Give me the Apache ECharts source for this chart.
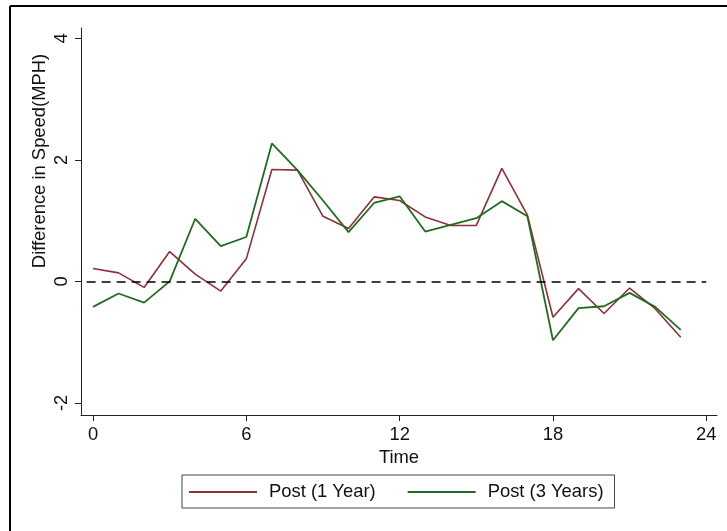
<!DOCTYPE html>
<html>
<head>
<meta charset="utf-8">
<script src="https://cdn.jsdelivr.net/npm/echarts@6/dist/echarts.min.js"></script>
<style>
html,body{margin:0;padding:0;background:#fff;}
#c{width:727px;height:531px;}
</style>
</head>
<body>
<div id="c"></div>
<script>
var times = [0,1,2,3,4,5,6,7,8,9,10,11,12,13,14,15,16,17,18,19,20,21,22,23];
var post1Year = [0.21,0.14,-0.10,0.49,0.12,-0.16,0.37,1.84,1.83,1.07,0.87,1.39,1.33,1.06,0.92,0.92,1.86,1.09,-0.59,-0.12,-0.53,-0.11,-0.45,-0.92];
var post3Years = [-0.42,-0.20,-0.35,0.00,1.03,0.58,0.73,2.27,1.83,1.33,0.81,1.29,1.40,0.82,0.93,1.04,1.32,1.07,-0.97,-0.44,-0.41,-0.19,-0.42,-0.80];
var xTicks = [0,6,12,18,24];
var yTicks = [-2,0,2,4];
var seriesNames = ['Post (1 Year)','Post (3 Years)'];
var xTitle = 'Time';
var yTitle = 'Difference in Speed(MPH)';

function pairs(vals){ return times.map(function(t,i){ return [t, vals[i]]; }); }

var font = 'Liberation Sans, Arial, sans-serif';
var fs = 18.4;
var chart = echarts.init(document.getElementById('c'), null, {renderer:'canvas'});
chart.setOption({
  animation:false,
  backgroundColor:'#fff',
  grid:{left:81, top:28, right:10, bottom:116, containLabel:false},
  xAxis:{
    type:'value', min:-0.47, max:24.42,
    name:xTitle, nameLocation:'middle', nameGap:30,
    nameTextStyle:{color:'#111', fontSize:fs, fontFamily:font},
    axisLine:{show:true, onZero:false, lineStyle:{color:'#222', width:1}},
    axisTick:{show:true, length:6, customValues:xTicks, lineStyle:{color:'#222'}},
    axisLabel:{customValues:xTicks, color:'#111', fontSize:fs, fontFamily:font, margin:11},
    splitLine:{show:false}
  },
  yAxis:{
    type:'value', min:-2.2, max:4.17,
    axisLine:{show:true, onZero:false, lineStyle:{color:'#222', width:1}},
    axisTick:{show:true, length:6, customValues:yTicks, lineStyle:{color:'#222'}},
    axisLabel:{customValues:yTicks, rotate:90, color:'#111', fontSize:fs, fontFamily:font, margin:10},
    splitLine:{show:false}
  },
  legend:{
    data:seriesNames,
    left:182, top:475,
    orient:'horizontal',
    icon:'rect', itemWidth:68, itemHeight:2, itemGap:32,
    borderColor:'#444', borderWidth:1,
    padding:[7,11,6,7],
    textStyle:{color:'#111', fontSize:fs, fontFamily:font, padding:[0,0,0,7], lineHeight:20}
  },
  graphic:[
    {type:'text', x:40, y:161, rotation:Math.PI/2,
     style:{text:yTitle, fill:'#111', font:fs + 'px ' + font, textAlign:'center', textVerticalAlign:'middle'}},
    {type:'line', shape:{x1:10, y1:6, x2:727, y2:6}, style:{stroke:'#000', lineWidth:2}},
    {type:'line', shape:{x1:10, y1:6, x2:10, y2:531}, style:{stroke:'#000', lineWidth:2}}
  ],
  series:[
    {name:seriesNames[0], type:'line', data:pairs(post1Year), symbol:'none',
     lineStyle:{color:'#8e2f3b', width:1.6}, itemStyle:{color:'#8e2f3b'}, z:3,
     markLine:{silent:true, symbol:'none', label:{show:false},
       lineStyle:{color:'#000', type:[9,6], width:1.5},
       data:[[{coord:[-0.25,0]},{coord:[24,0]}]]}},
    {name:seriesNames[1], type:'line', data:pairs(post3Years), symbol:'none',
     lineStyle:{color:'#1f6e1f', width:1.8}, itemStyle:{color:'#1f6e1f'}, z:4}
  ]
});
</script>
</body>
</html>
